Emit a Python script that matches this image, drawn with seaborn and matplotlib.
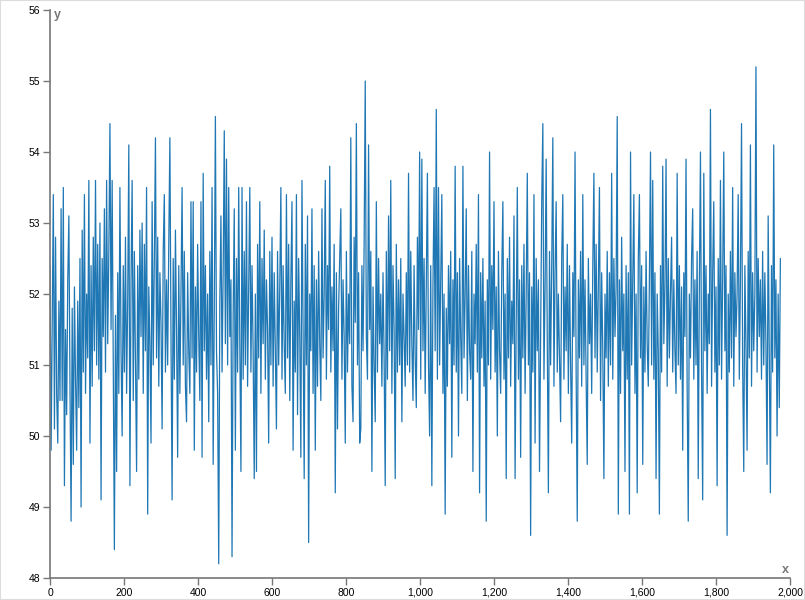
import numpy as np
import matplotlib
matplotlib.use("Agg")
import matplotlib.pyplot as plt
import seaborn as sns
from matplotlib.ticker import FuncFormatter, MultipleLocator
from matplotlib.patches import Rectangle

# values, one every 3 x-units (x = 0 .. 1974)
x_step = 3
y_values = [
    52.4, 49.8, 51.6, 53.4, 50.1, 52.8, 50.6, 49.9, 51.9, 50.5, 53.2, 50.5, 53.5, 49.3, 51.5, 50.3, 52.2, 53.1, 50.7, 48.8,
    51.8, 49.6, 52.1, 50.8, 49.8, 51.9, 50.4, 52.5, 49.0, 52.9, 50.9, 53.4, 50.6, 52.0, 51.1, 53.6, 49.9, 52.4, 50.7, 52.8,
    51.2, 53.6, 51.0, 52.7, 50.8, 53.0, 49.1, 52.5, 51.4, 53.2, 50.9, 53.6, 51.3, 52.6, 54.4, 51.5, 53.6, 51.0, 48.4, 51.7,
    49.5, 52.3, 50.6, 53.5, 51.2, 50.0, 52.4, 50.9, 52.8, 50.6, 51.9, 54.1, 49.3, 52.2, 53.6, 50.5, 52.6, 51.0, 49.5, 52.4,
    50.8, 52.9, 51.4, 53.0, 50.6, 52.7, 51.2, 53.5, 48.9, 52.1, 51.3, 49.9, 53.3, 51.0, 52.5, 54.2, 51.1, 52.8, 50.7, 52.3,
    51.6, 50.1, 52.6, 53.4, 50.9, 52.2, 51.0, 52.7, 54.2, 51.4, 49.1, 52.5, 50.8, 52.9, 51.5, 49.7, 52.4, 50.6, 52.0, 53.5,
    51.0, 52.6, 50.7, 50.2, 52.3, 51.2, 50.6, 53.3, 51.1, 53.3, 49.8, 52.1, 50.9, 52.7, 51.4, 50.5, 53.3, 49.7, 53.7, 51.2,
    52.4, 50.8, 52.0, 50.2, 52.6, 51.0, 53.5, 49.6, 51.8, 54.5, 51.2, 50.6, 48.2, 51.9, 53.1, 50.9, 52.3, 54.3, 51.3, 53.9,
    51.0, 53.5, 51.4, 52.2, 48.3, 51.7, 53.2, 49.8, 52.5, 50.9, 53.5, 51.3, 49.5, 53.5, 50.8, 52.6, 51.0, 53.3, 50.7, 52.1,
    53.5, 50.9, 52.4, 51.2, 49.4, 52.0, 49.5, 52.7, 51.1, 53.3, 50.6, 52.5, 51.3, 52.9, 50.8, 52.2, 51.5, 49.9, 52.6, 51.0,
    52.8, 50.7, 52.3, 51.2, 50.1, 52.6, 51.0, 52.1, 53.5, 50.8, 52.4, 51.3, 50.6, 53.4, 51.1, 52.7, 50.5, 52.2, 53.3, 49.8,
    51.9, 50.9, 53.4, 50.3, 52.5, 51.4, 49.7, 53.6, 51.6, 49.4, 52.7, 51.0, 53.1, 48.5, 52.0, 51.2, 53.2, 50.6, 52.4, 49.8,
    52.2, 50.7, 52.6, 51.3, 50.5, 53.2, 51.1, 52.0, 53.6, 50.8, 52.4, 51.5, 53.8, 50.9, 52.1, 51.2, 52.7, 49.2, 52.3, 50.1,
    51.8, 52.5, 53.2, 50.8, 52.2, 51.4, 49.9, 52.6, 50.9, 52.0, 51.3, 54.2, 50.7, 50.2, 52.8, 51.6, 54.4, 51.0, 52.3, 49.9,
    50.1, 52.4, 51.2, 52.7, 55.0, 51.4, 50.8, 54.1, 51.5, 52.6, 49.5, 52.1, 51.0, 50.2, 53.3, 50.9, 52.5, 51.3, 52.0, 50.7,
    52.3, 51.1, 49.3, 52.6, 50.8, 53.1, 51.2, 53.6, 50.6, 52.4, 51.5, 49.4, 52.7, 50.9, 52.2, 51.0, 52.5, 50.2, 52.0, 51.4,
    50.7, 52.3, 51.0, 53.7, 50.9, 52.6, 51.3, 50.5, 52.4, 51.1, 50.4, 52.8, 51.5, 54.0, 50.8, 53.9, 51.2, 52.5, 50.6, 52.2,
    53.7, 51.0, 50.0, 52.4, 49.3, 52.1, 53.5, 51.2, 54.6, 50.8, 53.5, 51.0, 52.2, 53.4, 50.6, 52.0, 48.9, 51.8, 50.7, 52.4,
    51.3, 52.6, 49.7, 52.2, 51.0, 53.8, 50.9, 52.3, 50.0, 52.5, 51.4, 50.6, 53.8, 51.1, 52.0, 53.2, 50.5, 52.4, 51.2, 50.8,
    52.6, 49.5, 52.0, 51.3, 52.7, 50.9, 53.4, 49.2, 52.3, 51.1, 52.5, 50.7, 51.9, 48.8, 52.2, 51.0, 54.0, 50.8, 52.4, 51.5,
    53.3, 50.9, 52.1, 50.0, 52.6, 51.2, 50.6, 52.3, 53.3, 50.8, 52.0, 49.4, 52.5, 51.1, 52.8, 50.7, 51.9, 51.3, 53.1, 49.4,
    51.6, 53.5, 50.8, 52.2, 49.7, 52.4, 51.1, 52.7, 50.6, 52.0, 53.7, 51.0, 52.3, 48.6, 52.1, 50.9, 53.4, 49.9, 52.5, 51.2,
    52.2, 49.5, 51.4, 53.3, 54.4, 50.8, 52.1, 53.9, 51.3, 49.2, 52.6, 51.0, 52.4, 54.2, 50.7, 52.3, 53.3, 50.9, 52.0, 51.1,
    50.2, 52.5, 53.4, 50.8, 52.1, 51.2, 52.7, 50.6, 52.4, 51.0, 49.9, 52.3, 51.4, 54.0, 50.9, 48.8, 52.2, 51.1, 52.6, 50.7,
    53.4, 51.0, 52.2, 50.8, 49.6, 52.5, 51.3, 52.0, 50.6, 52.4, 53.7, 51.1, 52.7, 50.9, 52.1, 53.5, 50.5, 52.3, 51.2, 49.4,
    52.0, 51.1, 52.6, 50.7, 52.3, 51.0, 53.7, 50.8, 52.5, 51.4, 52.1, 54.5, 48.9, 52.2, 50.6, 52.8, 51.2, 52.0, 49.5, 52.4,
    50.8, 52.3, 48.9, 54.0, 51.0, 52.2, 53.4, 50.6, 52.0, 49.2, 52.5, 53.4, 51.1, 52.4, 49.6, 52.1, 50.9, 52.6, 51.3, 50.7,
    52.2, 54.0, 51.0, 53.6, 50.8, 52.3, 49.4, 52.0, 51.2, 48.9, 52.4, 50.9, 53.8, 51.3, 52.1, 53.9, 50.7, 52.5, 51.1, 52.0,
    52.8, 50.9, 52.2, 51.2, 50.6, 53.7, 51.0, 52.4, 50.8, 52.1, 49.8, 52.3, 51.4, 53.9, 50.7, 48.8, 52.0, 51.1, 52.5, 53.2,
    50.8, 52.2, 51.0, 52.6, 49.4, 52.1, 54.0, 50.9, 49.1, 53.7, 51.2, 52.4, 50.6, 52.0, 51.3, 54.6, 50.7, 52.3, 53.3, 50.9,
    52.1, 49.3, 52.5, 51.0, 53.6, 50.8, 52.2, 54.0, 51.2, 52.4, 48.6, 52.0, 50.9, 52.6, 51.1, 53.5, 50.7, 52.3, 51.4, 52.0,
    53.4, 50.8, 52.2, 54.4, 51.0, 49.5, 52.4, 51.3, 49.8, 52.6, 51.1, 54.1, 50.7, 52.3, 51.2, 52.0, 55.2, 50.9, 52.5, 51.4,
    52.2, 50.8, 52.6, 51.0, 52.3, 51.3, 49.6, 53.1, 51.2, 49.2, 52.4, 50.9, 54.1, 51.1, 52.2, 50.0, 52.0, 50.4, 52.5,
]
x_values = np.arange(len(y_values)) * x_step

x_ticks = [0, 200, 400, 600, 800, 1000, 1200, 1400, 1600, 1800, 2000]
y_ticks = [48, 49, 50, 51, 52, 53, 54, 55, 56]

sns.set_style("white")
plt.rcParams['font.family'] = ['Liberation Sans', 'DejaVu Sans']

fig = plt.figure(figsize=(8.05, 6.0), dpi=100)
ax = fig.add_axes([50 / 805, 22 / 600, 740 / 805, 568 / 600])

sns.lineplot(x=x_values, y=y_values, ax=ax, color="#1f77b4", linewidth=0.9)

ax.set_xlim(0, 2000)
ax.set_ylim(48, 56)
ax.set_xticks(x_ticks)
ax.set_yticks(y_ticks)
ax.xaxis.set_major_formatter(FuncFormatter(lambda v, p: f"{v:,.0f}"))
ax.tick_params(axis="both", direction="out", length=5, width=1, color="#777777",
               labelsize=7.5, labelcolor="#000000", pad=2)
ax.tick_params(axis="x", bottom=True)
ax.tick_params(axis="y", left=True)

for side in ["top", "right"]:
    ax.spines[side].set_visible(False)
for side in ["left", "bottom"]:
    ax.spines[side].set_color("#777777")
    ax.spines[side].set_linewidth(1.2)

ax.set_xlabel("")
ax.set_ylabel("")
fig.text(54 / 805, 1 - 15 / 600, "y", color="#777777", fontsize=9, fontweight="bold",
         ha="left", va="center")
fig.text(789 / 805, 1 - 570 / 600, "x", color="#777777", fontsize=9, fontweight="bold",
         ha="right", va="center")

fig.patches.append(Rectangle((0, 0), 1, 1, transform=fig.transFigure, fill=False,
                             edgecolor="#dddddd", linewidth=1.5))

fig.savefig("out.png", dpi=100)
